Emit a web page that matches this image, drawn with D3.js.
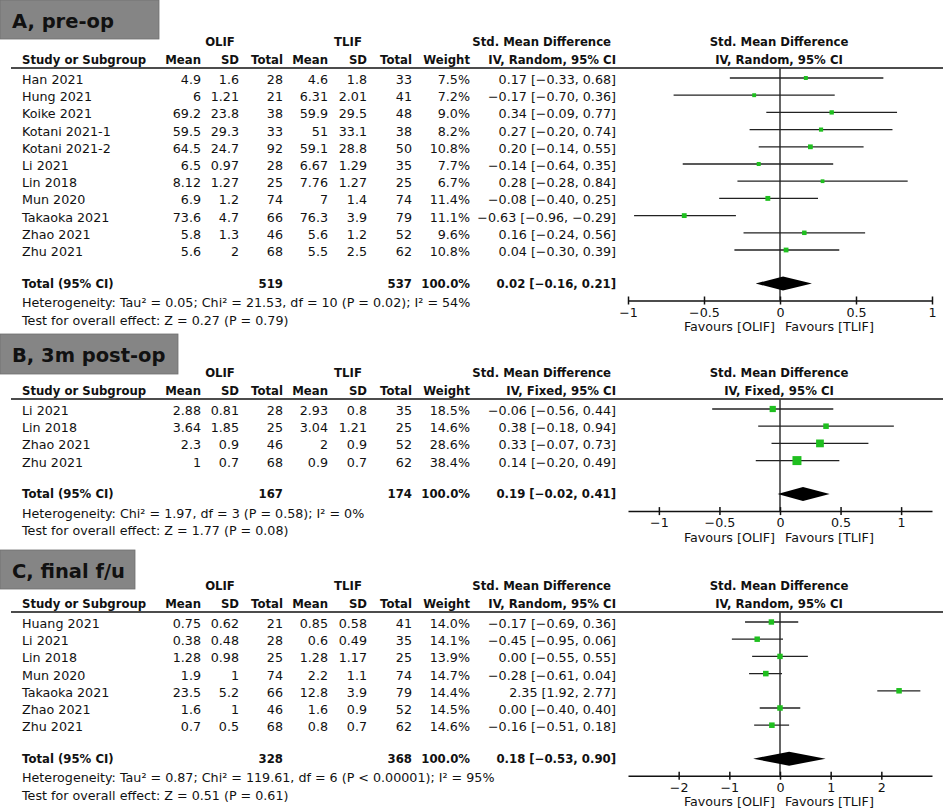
<!DOCTYPE html>
<html>
<head>
<meta charset="utf-8">
<script src="https://cdn.jsdelivr.net/npm/d3@7"></script>
<style>
  body { margin: 0; background: #fff; }
  text { font-family: "DejaVu Sans", sans-serif; fill: #111; }
</style>
</head>
<body>
<div id="chart"></div>
<script>
// ---- A, pre-op ----
var preStudies = ["Han 2021", "Hung 2021", "Koike 2021", "Kotani 2021-1", "Kotani 2021-2", "Li 2021",
                  "Lin 2018", "Mun 2020", "Takaoka 2021", "Zhao 2021", "Zhu 2021"];
var preOlifMean = [4.9, 6, 69.2, 59.5, 64.5, 6.5, 8.12, 6.9, 73.6, 5.8, 5.6];
var preOlifSD   = [1.6, 1.21, 23.8, 29.3, 24.7, 0.97, 1.27, 1.2, 4.7, 1.3, 2];
var preOlifN    = [28, 21, 38, 33, 92, 28, 25, 74, 66, 46, 68];
var preTlifMean = [4.6, 6.31, 59.9, 51, 59.1, 6.67, 7.76, 7, 76.3, 5.6, 5.5];
var preTlifSD   = [1.8, 2.01, 29.5, 33.1, 28.8, 1.29, 1.27, 1.4, 3.9, 1.2, 2.5];
var preTlifN    = [33, 41, 48, 38, 50, 35, 25, 74, 79, 52, 62];
var preWeight   = [7.5, 7.2, 9.0, 8.2, 10.8, 7.7, 6.7, 11.4, 11.1, 9.6, 10.8];
var preSmd      = [0.17, -0.17, 0.34, 0.27, 0.20, -0.14, 0.28, -0.08, -0.63, 0.16, 0.04];
var preLo       = [-0.33, -0.70, -0.09, -0.20, -0.14, -0.64, -0.28, -0.40, -0.96, -0.24, -0.30];
var preHi       = [0.68, 0.36, 0.77, 0.74, 0.55, 0.35, 0.84, 0.25, -0.29, 0.56, 0.39];
var preTotalN   = [519, 537];
var preTotal    = [0.02, -0.16, 0.21];
var preTicks    = [-1, -0.5, 0, 0.5, 1];

// ---- B, 3m post-op ----
var postStudies = ["Li 2021", "Lin 2018", "Zhao 2021", "Zhu 2021"];
var postOlifMean = [2.88, 3.64, 2.3, 1];
var postOlifSD   = [0.81, 1.85, 0.9, 0.7];
var postOlifN    = [28, 25, 46, 68];
var postTlifMean = [2.93, 3.04, 2, 0.9];
var postTlifSD   = [0.8, 1.21, 0.9, 0.7];
var postTlifN    = [35, 25, 52, 62];
var postWeight   = [18.5, 14.6, 28.6, 38.4];
var postSmd      = [-0.06, 0.38, 0.33, 0.14];
var postLo       = [-0.56, -0.18, -0.07, -0.20];
var postHi       = [0.44, 0.94, 0.73, 0.49];
var postTotalN   = [167, 174];
var postTotal    = [0.19, -0.02, 0.41];
var postTicks    = [-1, -0.5, 0, 0.5, 1];

// ---- C, final f/u ----
var finStudies = ["Huang 2021", "Li 2021", "Lin 2018", "Mun 2020", "Takaoka 2021", "Zhao 2021", "Zhu 2021"];
var finOlifMean = [0.75, 0.38, 1.28, 1.9, 23.5, 1.6, 0.7];
var finOlifSD   = [0.62, 0.48, 0.98, 1, 5.2, 1, 0.5];
var finOlifN    = [21, 28, 25, 74, 66, 46, 68];
var finTlifMean = [0.85, 0.6, 1.28, 2.2, 12.8, 1.6, 0.8];
var finTlifSD   = [0.58, 0.49, 1.17, 1.1, 3.9, 0.9, 0.7];
var finTlifN    = [41, 35, 25, 74, 79, 52, 62];
var finWeight   = [14.0, 14.1, 13.9, 14.7, 14.4, 14.5, 14.6];
var finSmd      = [-0.17, -0.45, 0.00, -0.28, 2.35, 0.00, -0.16];
var finLo       = [-0.69, -0.95, -0.55, -0.61, 1.92, -0.40, -0.51];
var finHi       = [0.36, 0.06, 0.55, 0.04, 2.77, 0.40, 0.18];
var finTotalN   = [328, 368];
var finTotal    = [0.18, -0.53, 0.90];
var finTicks    = [-2, -1, 0, 1, 2];

var panels = [
    {title: "A, pre-op", method: "IV, Random, 95% CI", studies: preStudies,
     cols: [preOlifMean, preOlifSD, preOlifN, preTlifMean, preTlifSD, preTlifN],
     weight: preWeight, smd: preSmd, lo: preLo, hi: preHi, totalN: preTotalN, total: preTotal,
     het: "Heterogeneity: Tau\u00b2 = 0.05; Chi\u00b2 = 21.53, df = 10 (P = 0.02); I\u00b2 = 54%",
     test: "Test for overall effect: Z = 0.27 (P = 0.79)",
     ticks: preTicks, domain: [-1, 1], top: 42, box: [0, 0, 159, 39]},
    {title: "B, 3m post-op", method: "IV, Fixed, 95% CI", studies: postStudies,
     cols: [postOlifMean, postOlifSD, postOlifN, postTlifMean, postTlifSD, postTlifN],
     weight: postWeight, smd: postSmd, lo: postLo, hi: postHi, totalN: postTotalN, total: postTotal,
     het: "Heterogeneity: Chi\u00b2 = 1.97, df = 3 (P = 0.58); I\u00b2 = 0%",
     test: "Test for overall effect: Z = 1.77 (P = 0.08)",
     ticks: postTicks, domain: [-1.255, 1.255], top: 373, box: [0, 334, 178, 40]},
    {title: "C, final f/u", method: "IV, Random, 95% CI", studies: finStudies,
     cols: [finOlifMean, finOlifSD, finOlifN, finTlifMean, finTlifSD, finTlifN],
     weight: finWeight, smd: finSmd, lo: finLo, hi: finHi, totalN: finTotalN, total: finTotal,
     het: "Heterogeneity: Tau\u00b2 = 0.87; Chi\u00b2 = 119.61, df = 6 (P < 0.00001); I\u00b2 = 95%",
     test: "Test for overall effect: Z = 0.51 (P = 0.61)",
     ticks: finTicks, domain: [-3, 3], top: 586, box: [0, 550, 135, 39]}
];

var width = 945, height = 809;
var fs = 12.7, fsBold = 11.7;
var colX = [201, 239, 283, 328, 367, 412];   // right edges of the numeric columns
var weightX = 470, ciX = 616, studyX = 22;
var rowGap = 17.2;
var green = "#1fbf1f";
var fmt2 = d3.format(".2f");

var svg = d3.select("#chart").append("svg")
    .attr("width", width)
    .attr("height", height);

function txt(g, x, y, s, anchor, bold, size) {
    return g.append("text")
        .attr("x", x)
        .attr("y", y)
        .attr("dy", "0.36em")
        .attr("text-anchor", anchor || "start")
        .style("font-size", (size || (bold ? fsBold : fs)) + "px")
        .style("font-weight", bold ? "bold" : "normal")
        .text(s);
}

function ciLabel(v) {
    return fmt2(v[0]) + " [" + fmt2(v[1]) + ", " + fmt2(v[2]) + "]";
}

panels.forEach(function(p) {
    var g = svg.append("g");
    var h = p.top;
    var lineY = h + 26;
    var firstY = h + 37.5;
    var n = p.studies.length;
    var totalY = firstY + (n - 1) * rowGap + 32;
    var axisY = totalY + 17;

    // grey title box
    g.append("rect")
        .attr("x", p.box[0]).attr("y", p.box[1])
        .attr("width", p.box[2]).attr("height", p.box[3])
        .attr("fill", "#858585")
        .attr("stroke", "#6f6f6f").attr("stroke-width", 0.8);
    txt(g, 12, p.box[1] + p.box[3] / 2 + 1, p.title, "start", true, 19.5);

    // column headers
    txt(g, 220, h, "OLIF", "middle", true);
    txt(g, 348, h, "TLIF", "middle", true);
    txt(g, 611, h, "Std. Mean Difference", "end", true);
    txt(g, 779, h, "Std. Mean Difference", "middle", true);
    var hy = h + 18;
    txt(g, studyX, hy, "Study or Subgroup", "start", true);
    ["Mean", "SD", "Total", "Mean", "SD", "Total"].forEach(function(s, i) {
        txt(g, colX[i], hy, s, "end", true);
    });
    txt(g, weightX, hy, "Weight", "end", true);
    txt(g, ciX, hy, p.method, "end", true);
    txt(g, 779, hy, p.method, "middle", true);

    g.append("line")
        .attr("x1", 11).attr("x2", 943)
        .attr("y1", lineY).attr("y2", lineY)
        .attr("stroke", "#111").attr("stroke-width", 1.5);

    // study rows
    var y = d3.scaleLinear().domain([0, 1]).range([firstY, firstY + rowGap]);
    p.studies.forEach(function(s, i) {
        var ry = y(i);
        txt(g, studyX, ry, s, "start");
        p.cols.forEach(function(col, j) {
            txt(g, colX[j], ry, String(col[i]), "end");
        });
        txt(g, weightX, ry, p.weight[i].toFixed(1) + "%", "end");
        txt(g, ciX, ry, ciLabel([p.smd[i], p.lo[i], p.hi[i]]), "end");
    });

    // totals
    txt(g, studyX, totalY, "Total (95% CI)", "start", true);
    txt(g, colX[2], totalY, String(p.totalN[0]), "end", true);
    txt(g, colX[5], totalY, String(p.totalN[1]), "end", true);
    txt(g, weightX, totalY, "100.0%", "end", true);
    txt(g, ciX, totalY, ciLabel(p.total), "end", true);
    txt(g, studyX, totalY + 19, p.het, "start");
    txt(g, studyX, totalY + 36.5, p.test, "start");

    // forest plot
    var x = d3.scaleLinear().domain(p.domain).range([628, 932]);

    g.append("line")
        .attr("x1", x(0)).attr("x2", x(0))
        .attr("y1", lineY).attr("y2", axisY)
        .attr("stroke", "#333").attr("stroke-width", 1.5);

    var rows = g.selectAll(".study").data(p.studies).enter().append("g")
        .attr("class", "study");
    rows.append("line")
        .attr("x1", function(d, i) { return x(p.lo[i]); })
        .attr("x2", function(d, i) { return x(p.hi[i]); })
        .attr("y1", function(d, i) { return y(i) - 1.5; })
        .attr("y2", function(d, i) { return y(i) - 1.5; })
        .attr("stroke", "#222").attr("stroke-width", 1.3);
    rows.append("rect")
        .attr("width", function(d, i) { return 1.45 * Math.sqrt(p.weight[i]); })
        .attr("height", function(d, i) { return 1.45 * Math.sqrt(p.weight[i]); })
        .attr("x", function(d, i) { return x(p.smd[i]) - 0.725 * Math.sqrt(p.weight[i]); })
        .attr("y", function(d, i) { return y(i) - 1.5 - 0.725 * Math.sqrt(p.weight[i]); })
        .attr("fill", green);

    // pooled diamond
    var t = p.total;
    g.append("path")
        .attr("d", "M" + x(t[1]) + "," + totalY +
                   "L" + x(t[0]) + "," + (totalY - 7) +
                   "L" + x(t[2]) + "," + totalY +
                   "L" + x(t[0]) + "," + (totalY + 7) + "Z")
        .attr("fill", "#000");

    // axis
    var axis = d3.axisBottom(x)
        .tickValues(p.ticks)
        .tickFormat(d3.format(""))
        .tickSizeOuter(0)
        .tickSizeInner(4);
    var ag = g.append("g")
        .attr("transform", "translate(0," + axisY + ")")
        .call(axis);
    ag.select(".domain").attr("stroke", "#111").attr("stroke-width", 1.5);
    ag.selectAll(".tick line").attr("y1", -4).attr("y2", 4)
        .attr("stroke", "#111").attr("stroke-width", 1.5);
    ag.selectAll(".tick text")
        .attr("y", 11.5).attr("dy", "0.36em")
        .style("font-size", fs + "px")
        .style("font-family", "DejaVu Sans, sans-serif")
        .attr("fill", "#111");

    txt(g, 775, axisY + 26, "Favours [OLIF]", "end");
    txt(g, 785, axisY + 26, "Favours [TLIF]", "start");
});
</script>
</body>
</html>
